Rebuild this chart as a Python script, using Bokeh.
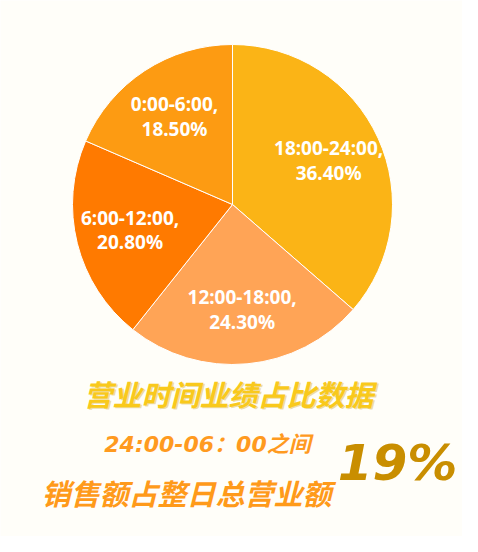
import math
from bokeh.plotting import figure
from bokeh.models import ColumnDataSource, Range1d
from bokeh.core.properties import value
from bokeh.embed import file_html
from bokeh.resources import INLINE

# ---- data ----
labels = ["18:00-24:00", "12:00-18:00", "6:00-12:00", "0:00-6:00"]
shares = [36.4, 24.3, 20.8, 18.5]
colors = ["#FBB416", "#FFA456", "#FF7A00", "#FD9B12"]
title_text = "营业时间业绩占比数据"
line2_text = "24:00-06：00之间"
line3_text = "销售额占整日总营业额"
big_text = "19%"

W, H = 462, 536
p = figure(width=W, height=H, output_backend="svg", toolbar_location=None,
           x_range=Range1d(0, W), y_range=Range1d(0, H), min_border=0)
p.axis.visible = False
p.grid.visible = False
p.outline_line_color = None
p.background_fill_color = "#FFFEF9"
p.border_fill_color = "#FFFEF9"

cx, cy, R = 232, 332, 160
total = sum(shares)
starts, ends, lx, ly, txt = [], [], [], [], []
a = math.pi / 2
for lab, s in zip(labels, shares):
    span = 2 * math.pi * s / total
    starts.append(a)
    ends.append(a - span)
    mid = a - span / 2
    lx.append(cx + 0.66 * R * math.cos(mid))
    ly.append(cy + 0.66 * R * math.sin(mid))
    txt.append(f"{lab},\n{s:.2f}%")
    a -= span

src = ColumnDataSource(dict(start=starts, end=ends, color=colors, lx=lx, ly=ly, txt=txt))
p.wedge(x=cx, y=cy, radius=R, start_angle="start", end_angle="end", direction="clock",
        fill_color="color", line_color="white", line_width=1, source=src)
p.text(x="lx", y="ly", text="txt", source=src, text_color="white",
       text_font=value("Noto Sans"), text_font_style="bold", text_font_size="19px",
       text_align="center", text_baseline="middle", text_line_height=0.95)

cjk = value("Noto Sans CJK SC")
# title with soft shadow
p.text(x=[229.5], y=[142.5], text=[title_text], text_color="#C9A000", text_alpha=0.35,
       text_font=cjk, text_font_style="bold italic", text_font_size="29px",
       text_align="center", text_baseline="middle")
p.text(x=[228], y=[144], text=[title_text], text_color="#F9C91C",
       text_font=cjk, text_font_style="bold italic", text_font_size="29px",
       text_align="center", text_baseline="middle")
p.text(x=[207], y=[92], text=[line2_text], text_color="#FF9A1F",
       text_font=value("DejaVu Sans, Noto Sans CJK SC"), text_font_style="bold italic",
       text_font_size="22px", text_align="center", text_baseline="middle")
p.text(x=[186], y=[45], text=[line3_text], text_color="#FF9A1A",
       text_font=cjk, text_font_style="bold italic", text_font_size="29px",
       text_align="center", text_baseline="middle")
p.text(x=[397], y=[74], text=[big_text], text_color="#C98E00",
       text_font=value("DejaVu Sans"), text_font_style="bold italic", text_font_size="50px",
       text_align="center", text_baseline="middle")

open("out.html", "w").write(file_html(p, INLINE))
